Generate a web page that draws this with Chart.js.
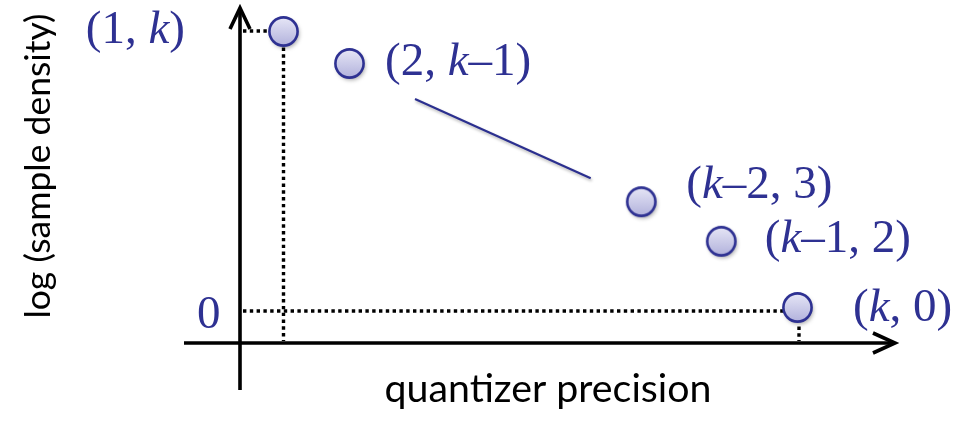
<!DOCTYPE html>
<html>
<head>
<meta charset="utf-8">
<script src="https://cdn.jsdelivr.net/npm/chart.js@4"></script>
<style>
  html, body { margin: 0; padding: 0; background: #fff; }
  #wrap { width: 953px; height: 421px; position: relative; }
</style>
</head>
<body>
<div id="wrap"><canvas id="chart"></canvas></div>
<script>
// operating points: x = quantizer precision, y = log sample density
const pointX = [0.435, 1.095, 4.013, 4.813, 5.575];
const pointY = [2.795, 2.475, 1.093, 0.697, 0.035];
const pointLabels = ['(1, k)', '(2, k–1)', '(k–2, 3)', '(k–1, 2)', '(k, 0)'];

// the "..." stroke between the 2nd and 3rd point
const segmentX = [1.75, 3.507];
const segmentY = [2.12, 1.327];

// tick labels on the density axis
const yTickValues = [0];
const yTickLabels = ['0'];

const xTitle = 'quantizer precision';
const yTitle = 'log (sample density)';

const NAVY = '#2e3192';
const SERIF = '47px "Liberation Serif", "DejaVu Serif", serif';
const SERIF_IT = 'italic 47px "Liberation Serif", "DejaVu Serif", serif';
const SANS = 'Lato, "Open Sans", sans-serif';

// label placement next to each point, in px: [dx, dy, align]
const labelPlace = [[-98.5, -1, 'right'], [35.5, -1, 'left'], [45, -16, 'left'], [43.5, -1, 'left'], [55.5, 1, 'left']];

// axis frame in data units
const frame = { xAxisY: -0.32, xFrom: -0.56, xTo: 6.55, yAxisX: 0, yFrom: -0.79, yTo: 3.03 };

function makeDot(r) {
  const pad = 9;
  const size = Math.ceil(2 * r + pad * 2);
  const c = document.createElement('canvas');
  c.width = size; c.height = size;
  const g = c.getContext('2d');
  const m = size / 2;
  g.save();
  g.shadowColor = 'rgba(0,0,0,0.35)';
  g.shadowBlur = 4;
  g.shadowOffsetX = 1.5;
  g.shadowOffsetY = 2.5;
  g.beginPath();
  g.arc(m, m, r, 0, Math.PI * 2);
  const grad = g.createLinearGradient(0, m - r, 0, m + r);
  grad.addColorStop(0, '#e6e6f6');
  grad.addColorStop(1, '#b2b2dc');
  g.fillStyle = grad;
  g.fill();
  g.restore();
  g.beginPath();
  g.arc(m, m, r, 0, Math.PI * 2);
  g.lineWidth = 2.6;
  g.strokeStyle = NAVY;
  g.stroke();
  return c;
}

function drawMixed(ctx, text, x, cy, align) {
  const parts = text.split(/(k)/).filter(s => s);
  const fonts = parts.map(p => (p === 'k' ? SERIF_IT : SERIF));
  const widths = parts.map((p, i) => { ctx.font = fonts[i]; return ctx.measureText(p).width; });
  const total = widths.reduce((a, b) => a + b, 0);
  let px = align === 'right' ? x - total : x;
  ctx.textAlign = 'left';
  ctx.textBaseline = 'alphabetic';
  ctx.fillStyle = NAVY;
  parts.forEach((p, i) => {
    ctx.font = fonts[i];
    ctx.fillText(p, px, cy + 12);
    px += widths[i];
  });
}

// sans title, sized so it spans the given width
function fitTitle(ctx, text, cx, cy, width) {
  ctx.font = '30px ' + SANS;
  const size = 30 * width / ctx.measureText(text).width;
  ctx.font = size.toFixed(1) + 'px ' + SANS;
  ctx.fillText(text, cx, cy);
}

function dotted(ctx, x1, y1, x2, y2) {
  ctx.save();
  ctx.strokeStyle = '#000';
  ctx.lineWidth = 3.4;
  ctx.setLineDash([3.4, 3.4]);
  ctx.beginPath();
  ctx.moveTo(x1, y1);
  ctx.lineTo(x2, y2);
  ctx.stroke();
  ctx.restore();
}

const framePlugin = {
  id: 'frame',
  beforeDatasetsDraw(chart) {
    const { ctx, scales: { x, y } } = chart;
    const ax = x.getPixelForValue(frame.yAxisX);
    const ay = y.getPixelForValue(frame.xAxisY);
    const x0 = x.getPixelForValue(frame.xFrom), x1 = x.getPixelForValue(frame.xTo);
    const y0 = y.getPixelForValue(frame.yFrom), y1 = y.getPixelForValue(frame.yTo);

    // guide lines from first and last point
    const first = chart.getDatasetMeta(1).data[0];
    const last = chart.getDatasetMeta(1).data[pointX.length - 1];
    const zero = y.getPixelForValue(yTickValues[0]);
    dotted(ctx, ax + 3, first.y - 0.5, first.x - 14, first.y - 0.5);
    dotted(ctx, first.x, first.y + 16, first.x, ay - 2);
    dotted(ctx, ax + 3, zero, last.x - 14, zero);
    dotted(ctx, last.x + 1.5, last.y + 19, last.x + 1.5, ay - 2);

    // axes with open arrow heads
    ctx.save();
    ctx.strokeStyle = '#000';
    ctx.lineWidth = 3.6;
    ctx.lineCap = 'butt';
    ctx.beginPath();
    ctx.moveTo(x0, ay); ctx.lineTo(x1 - 2, ay);
    ctx.moveTo(ax, y0); ctx.lineTo(ax, y1 + 2);
    ctx.stroke();
    ctx.lineJoin = 'miter';
    ctx.beginPath();
    ctx.moveTo(x1 - 22, ay - 10); ctx.lineTo(x1, ay); ctx.lineTo(x1 - 22, ay + 10);
    ctx.moveTo(ax - 10, y1 + 21); ctx.lineTo(ax, y1); ctx.lineTo(ax + 10, y1 + 21);
    ctx.stroke();
    ctx.restore();

    // axis titles
    ctx.save();
    ctx.fillStyle = '#000';
    ctx.textAlign = 'center';
    ctx.textBaseline = 'alphabetic';
    fitTitle(ctx, xTitle, 548, 402, 327);
    ctx.translate(50, 166);
    ctx.rotate(-Math.PI / 2);
    fitTitle(ctx, yTitle, 0, 0, 305);
    ctx.restore();
  },
  beforeDatasetDraw(chart, args) {
    if (args.index === 0) {
      chart.ctx.save();
      chart.ctx.shadowColor = 'rgba(0,0,0,0.3)';
      chart.ctx.shadowBlur = 3;
      chart.ctx.shadowOffsetX = 1;
      chart.ctx.shadowOffsetY = 2;
    }
  },
  afterDatasetDraw(chart, args) {
    if (args.index === 0) chart.ctx.restore();
  },
  afterDatasetsDraw(chart) {
    const { ctx, scales: { x, y } } = chart;
    const ax = x.getPixelForValue(frame.yAxisX);
    ctx.save();
    yTickValues.forEach((v, i) => {
      drawMixed(ctx, yTickLabels[i], ax - 43, y.getPixelForValue(v) + 5, 'left');
    });
    chart.getDatasetMeta(1).data.forEach((pt, i) => {
      const [dx, dy, align] = labelPlace[i];
      drawMixed(ctx, pointLabels[i], pt.x + dx, pt.y + dy, align);
    });
    ctx.restore();
  }
};

const dot = makeDot(14.1);

new Chart(document.getElementById('chart'), {
  type: 'scatter',
  data: {
    datasets: [
      {
        data: segmentX.map((v, i) => ({ x: v, y: segmentY[i] })),
        showLine: true,
        borderColor: '#2b2f8f',
        borderWidth: 2.2,
        pointRadius: 0,
        order: 2
      },
      {
        data: pointX.map((v, i) => ({ x: v, y: pointY[i] })),
        pointStyle: dot,
        pointRadius: 14,
        order: 1
      }
    ]
  },
  options: {
    responsive: true,
    maintainAspectRatio: false,
    animation: false,
    events: [],
    layout: { padding: 0, autoPadding: false },
    plugins: { legend: { display: false }, tooltip: { enabled: false } },
    scales: {
      x: { type: 'linear', min: -2.4, max: 7.13, display: false },
      y: { type: 'linear', min: -1.10, max: 3.11, display: false }
    }
  },
  plugins: [framePlugin]
});
</script>
</body>
</html>
